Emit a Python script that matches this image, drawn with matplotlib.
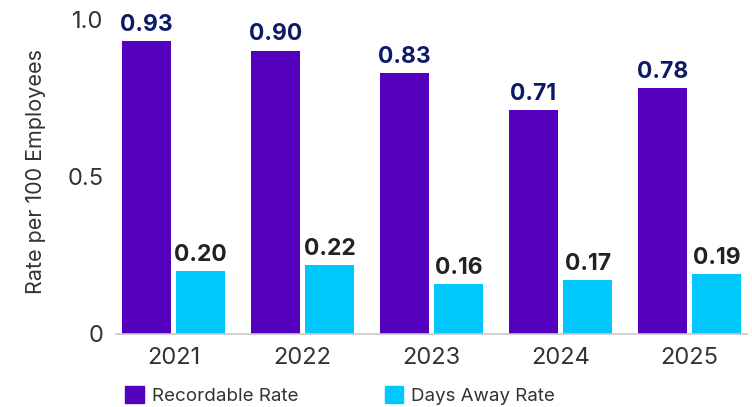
import matplotlib
matplotlib.use("Agg")
import matplotlib.pyplot as plt
import numpy as np
from matplotlib.patches import Patch

years = ["2021", "2022", "2023", "2024", "2025"]
recordable_rate = [0.93, 0.90, 0.83, 0.71, 0.78]
days_away_rate = [0.20, 0.22, 0.16, 0.17, 0.19]
series_names = ["Recordable Rate", "Days Away Rate"]
y_ticks = [0, 0.5, 1.0]
y_tick_labels = ["0", "0.5", "1.0"]

PURPLE = "#5400BC"
CYAN = "#00C7FD"
NAVY = "#0D1A66"
DARK = "#222222"
TEXT = "#333333"

plt.rcParams["font.family"] = ["Inter", "DejaVu Sans"]

fig = plt.figure(figsize=(7.52, 4.07), dpi=100)
W, H = 752, 407
ax = fig.add_axes([116 / W, 1 - 334 / H, (747 - 116) / W, (334 - 19) / H])

x = np.arange(len(years))
bw = 0.38
off = 0.21
ax.bar(x - off, recordable_rate, bw, color=PURPLE, zorder=2)
ax.bar(x + off, days_away_rate, bw, color=CYAN, zorder=2)

for xi, v in zip(x, recordable_rate):
    ax.text(xi - off, v + 0.016, f"{v:.2f}", ha="center", va="bottom",
            fontsize=16.5, fontweight="bold", color=NAVY, clip_on=False)
for xi, v in zip(x, days_away_rate):
    ax.text(xi + off, v + 0.016, f"{v:.2f}", ha="center", va="bottom",
            fontsize=16.5, fontweight="bold", color=DARK, clip_on=False)

ax.set_xlim(-0.446, 4.446)
ax.set_ylim(0, 1.0)
ax.set_xticks(x)
ax.set_xticklabels(years)
ax.set_yticks(y_ticks)
ax.set_yticklabels(y_tick_labels)
ax.tick_params(axis="both", length=0, labelsize=17, colors=TEXT)
ax.tick_params(axis="x", pad=9)
ax.tick_params(axis="y", pad=9)

for s in ["top", "right", "left"]:
    ax.spines[s].set_visible(False)
ax.spines["bottom"].set_color("#C8C8C8")
ax.spines["bottom"].set_linewidth(1.2)

fig.text(36 / W, 1 - 172 / H, "Rate per 100 Employees", rotation=90,
         ha="center", va="center", fontsize=15.5, color=TEXT)

handles = [Patch(color=PURPLE), Patch(color=CYAN)]
leg = fig.legend(handles, series_names, loc="center left",
                 bbox_to_anchor=(125 / W, 1 - 395.5 / H), ncol=2, frameon=False,
                 fontsize=13.5, handlelength=1.0, handleheight=1.0,
                 handletextpad=0.43, columnspacing=4.6,
                 borderpad=0, borderaxespad=0)
for t in leg.get_texts():
    t.set_color(TEXT)

fig.savefig("out.png", dpi=100)
